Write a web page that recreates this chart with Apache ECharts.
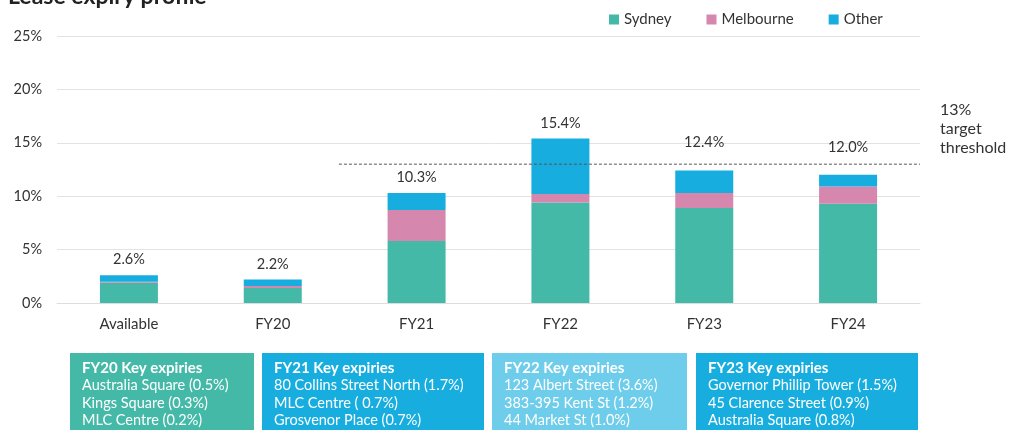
<!DOCTYPE html>
<html><head><meta charset="utf-8">
<script src="https://cdn.jsdelivr.net/npm/echarts@6/dist/echarts.min.js"></script>
<style>html,body{margin:0;padding:0;background:#fff}#c{width:1010px;height:430px}</style>
</head><body><div id="c"></div>
<script>
const categories = ['Available', 'FY20', 'FY21', 'FY22', 'FY23', 'FY24'];
const sydney = [1.9, 1.4, 5.8, 9.4, 8.9, 9.3];
const melbourne = [0.1, 0.2, 2.9, 0.8, 1.4, 1.6];
const other = [0.6, 0.6, 1.6, 5.2, 2.1, 1.1];
const totals = [2.6, 2.2, 10.3, 15.4, 12.4, 12.0];
const yTicks = [0, 5, 10, 15, 20, 25];
const threshold = 13;
const thresholdStart = 1.96; // in category-slot units (0..6)
const thresholdLabel = ['13%', 'target', 'threshold'];
const titleText = 'Lease expiry profile';
const boxTitles = ['FY20 Key expiries', 'FY21 Key expiries', 'FY22 Key expiries', 'FY23 Key expiries'];
const boxLines = [
  ['Australia Square (0.5%)', 'Kings Square (0.3%)', 'MLC Centre (0.2%)'],
  ['80 Collins Street North (1.7%)', 'MLC Centre ( 0.7%)', 'Grosvenor Place (0.7%)'],
  ['123 Albert Street (3.6%)', '383-395 Kent St (1.2%)', '44 Market St (1.0%)'],
  ['Governor Phillip Tower (1.5%)', '45 Clarence Street (0.9%)', 'Australia Square (0.8%)']
];

const FONT = 'Lato';
const C_SYD = '#45b9a8', C_MEL = '#d587ae', C_OTH = '#17aedf';
const boxGeom = [[70, 184, '#45b9a8'], [262, 222, '#17aedf'], [492, 195, '#6dcdeb'], [696, 222, '#17aedf']];
const labelLift = [0, 0, 0, 0, 13, 12]; // extra px so labels clear the threshold line

const graphics = [];
graphics.push({type:'text', left: 8, top: -15, style:{text: titleText, font: 'bold 23px ' + FONT, fill:'#222'}});
thresholdLabel.forEach((t,i)=>graphics.push({type:'text', left: 940, top: 102 + i*19, style:{text:t, font:'16px ' + FONT, fill:'#333'}}));
boxGeom.forEach((b,i)=>{
  graphics.push({type:'rect', shape:{x:b[0], y:353, width:b[1], height:90}, style:{fill:b[2]}});
  graphics.push({type:'text', x:b[0]+12, y:361, style:{text: boxTitles[i], font:'bold 15px ' + FONT, fill:'#fff'}});
  boxLines[i].forEach((l,j)=>graphics.push({type:'text', x:b[0]+12, y:378 + j*17.6, style:{text:l, font:'14.5px ' + FONT, fill:'#fff'}}));
});

const chart = echarts.init(document.getElementById('c'));
chart.setOption({
  animation:false,
  textStyle:{fontFamily: FONT},
  grid:{left:57, right:90, top:36, bottom:127, containLabel:false},
  legend:{
    data:['Sydney','Melbourne','Other'], left: 609, top: 12, padding:0, itemWidth:10, itemHeight:10, itemGap:35,
    icon:'rect', textStyle:{fontSize:15, color:'#333', fontFamily: FONT}
  },
  xAxis:[{
    type:'category', data:categories,
    axisLine:{lineStyle:{color:'#ddd'}}, axisTick:{show:false},
    axisLabel:{fontSize:15, color:'#333', margin:14}
  },{
    type:'value', min:0, max:categories.length, show:false
  }],
  yAxis:{
    type:'value', min:yTicks[0], max:yTicks[yTicks.length-1], interval:5,
    axisLabel:{formatter:'{value}%', fontSize:14.5, color:'#333', margin:15},
    splitLine:{lineStyle:{color:'#e3e3e3'}}, axisLine:{show:false}, axisTick:{show:false}
  },
  series:[
    {name:'Sydney', type:'bar', stack:'a', data:sydney, barWidth:58, itemStyle:{color:C_SYD}},
    {name:'Melbourne', type:'bar', stack:'a', data:melbourne, itemStyle:{color:C_MEL}},
    {name:'Other', type:'bar', stack:'a', itemStyle:{color:C_OTH},
      data: other.map((v,i)=>({value:v, label:{offset:[0, -labelLift[i]]}})),
      label:{show:true, position:'top', distance:8, fontSize:14.5, color:'#333',
        formatter:p=>totals[p.dataIndex].toFixed(1)+'%'}},
    {name:'Threshold', type:'line', xAxisIndex:1, data:[[thresholdStart, threshold],[categories.length, threshold]],
      symbol:'none', lineStyle:{color:'#555', width:1, type:[3,2]}, silent:true}
  ],
  graphic: graphics
});
</script></body></html>
